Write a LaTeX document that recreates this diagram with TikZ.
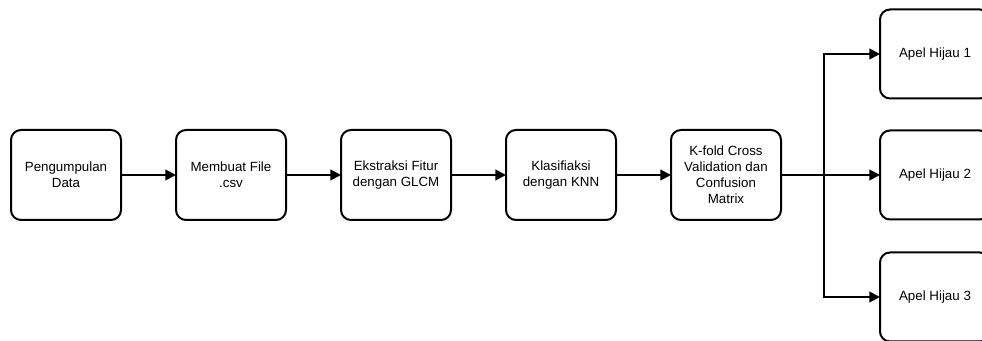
\documentclass[tikz,border=0pt]{standalone}
\usepackage{fontspec}
\setmainfont{Liberation Sans}
\usetikzlibrary{arrows.meta,positioning}

\begin{document}
\begin{tikzpicture}[->,>={Triangle[length=8pt,width=8pt]},line width=1.5pt,
  node distance=41.25pt,
  proc node/.style={rectangle,rounded corners=7.5pt,draw,outer sep=0pt,
    minimum width=82.5pt,minimum height=67.5pt,align=center,
    font=\fontsize{10}{12}\selectfont},
  out node/.style={proc node,minimum height=66.75pt}]

  \clip (0,0) rectangle (736.5pt,-255.75pt);

  \node[proc node] (kumpul) at (49.5pt,-131.25pt) {Pengumpulan\\Data};
  \node[proc node] (csv) [right=of kumpul] {Membuat File\\.csv};
  \node[proc node] (glcm) [right=of csv] {Ekstraksi Fitur\\dengan GLCM};
  \node[proc node] (knn) [right=of glcm] {Klasifiaksi\\dengan KNN};
  \node[proc node] (kfold) [right=of knn] {K-fold Cross\\Validation dan\\Confusion\\Matrix};

  \node[out node] (hijau2) [right=74.25pt of kfold] {Apel Hijau 2};
  \node[out node] (hijau1) [above=24pt of hijau2] {Apel Hijau 1};
  \node[out node] (hijau3) [below=24.75pt of hijau2] {Apel Hijau 3};

  \coordinate[right=32.25pt of kfold.east] (split);

  \path (kumpul) edge (csv)
        (csv) edge (glcm)
        (glcm) edge (knn)
        (knn) edge (kfold)
        (kfold) edge (hijau2);
  \draw (split) |- (hijau1);
  \draw (split) |- (hijau3);
\end{tikzpicture}
\end{document}
